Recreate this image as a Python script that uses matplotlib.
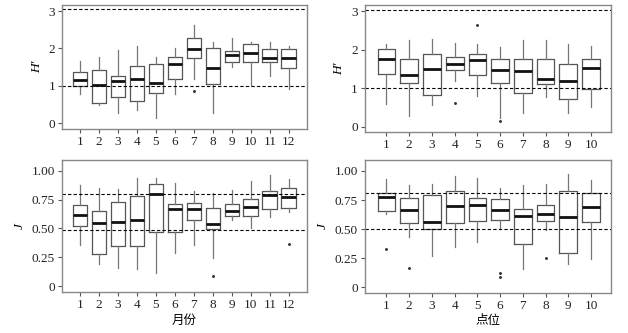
import matplotlib
matplotlib.use("Agg")
from matplotlib import pyplot as plt

plt.rcParams['font.family'] = ['Liberation Serif', 'Noto Sans CJK SC']

months = list(range(1, 13))
sites = list(range(1, 11))

# H' by month: whisker low, q1, median, q3, whisker high
h_month_lo = [0.77, 0.49, 0.27, 0.34, 0.13, 0.77, 1.18, 0.27, 1.51, 1.02, 1.25, 0.92]
h_month_q1 = [1.00, 0.53, 0.71, 0.59, 0.80, 1.18, 1.74, 1.04, 1.63, 1.64, 1.64, 1.47]
h_month_med = [1.16, 1.02, 1.12, 1.18, 1.07, 1.57, 1.99, 1.48, 1.82, 1.89, 1.75, 1.75]
h_month_q3 = [1.37, 1.41, 1.27, 1.53, 1.58, 1.76, 2.27, 2.02, 1.94, 2.13, 1.99, 1.99]
h_month_hi = [1.67, 1.78, 1.96, 2.07, 1.76, 2.00, 2.63, 2.16, 2.29, 2.16, 2.18, 2.06]
h_month_out = [[], [], [], [], [], [], [0.86], [], [], [], [], []]

# H' by site
h_site_lo = [0.59, 0.29, 0.56, 1.18, 0.80, 0.22, 0.35, 0.78, 0.36, 0.52]
h_site_q1 = [1.37, 1.14, 0.84, 1.47, 1.35, 1.14, 0.89, 1.10, 0.72, 0.99]
h_site_med = [1.75, 1.35, 1.51, 1.64, 1.74, 1.47, 1.45, 1.23, 1.20, 1.54]
h_site_q3 = [2.03, 1.75, 1.90, 1.80, 1.88, 1.75, 1.75, 1.75, 1.64, 1.77]
h_site_hi = [2.16, 2.25, 2.29, 2.18, 2.16, 2.07, 2.26, 2.26, 2.14, 2.09]
h_site_out = [[], [], [], [0.62], [2.64], [0.16], [], [], [], []]

# J by month
j_month_lo = [0.36, 0.19, 0.16, 0.145, 0.116, 0.29, 0.36, 0.246, 0.572, 0.50, 0.595, 0.64]
j_month_q1 = [0.52, 0.28, 0.347, 0.347, 0.465, 0.465, 0.57, 0.494, 0.61, 0.607, 0.673, 0.68]
j_month_med = [0.616, 0.546, 0.558, 0.575, 0.80, 0.673, 0.665, 0.535, 0.653, 0.682, 0.789, 0.775]
j_month_q3 = [0.70, 0.65, 0.73, 0.78, 0.884, 0.708, 0.72, 0.68, 0.714, 0.757, 0.824, 0.853]
j_month_hi = [0.876, 0.85, 0.84, 0.94, 0.94, 0.896, 0.824, 0.81, 0.83, 0.916, 0.962, 0.928]
j_month_out = [[], [], [], [], [], [], [], [0.087], [], [], [], [0.364]]

# J by site
j_site_lo = [0.626, 0.434, 0.27, 0.349, 0.386, 0.50, 0.154, 0.49, 0.20, 0.243]
j_site_q1 = [0.657, 0.554, 0.503, 0.551, 0.569, 0.577, 0.371, 0.566, 0.291, 0.563]
j_site_med = [0.777, 0.66, 0.557, 0.70, 0.711, 0.663, 0.609, 0.634, 0.60, 0.694]
j_site_q3 = [0.814, 0.769, 0.791, 0.826, 0.763, 0.757, 0.677, 0.703, 0.826, 0.811]
j_site_hi = [0.934, 0.883, 0.891, 0.954, 0.94, 0.857, 0.883, 0.891, 0.971, 0.92]
j_site_out = [[0.326], [0.169], [], [], [], [0.126, 0.086], [], [0.249], [], []]


def make_stats(lo, q1, med, q3, hi, out):
    stats = []
    for i in range(len(lo)):
        stats.append(dict(whislo=lo[i], q1=q1[i], med=med[i], q3=q3[i],
                          whishi=hi[i], fliers=out[i]))
    return stats


def draw(ax, labels, stats, ylim, yticks, yticklabels, refs, ylabel, xlabel=None):
    ax.bxp(stats, positions=labels, widths=0.78, showcaps=False,
           boxprops=dict(color='#555555', linewidth=0.9),
           whiskerprops=dict(color='#777777', linewidth=0.9),
           medianprops=dict(color='#111111', linewidth=2.0),
           flierprops=dict(marker='o', markersize=1.1, markerfacecolor='#333333',
                           markeredgecolor='#333333', linestyle='none'))
    for r in refs:
        ax.axhline(r, color='black', linestyle=(0, (3, 2)), linewidth=0.8)
    ax.set_xlim(0.05, len(labels) + 0.95 if len(labels) == 12 else len(labels) + 0.88)
    ax.set_ylim(*ylim)
    ax.set_yticks(yticks)
    ax.set_yticklabels(yticklabels)
    ax.set_xticks(labels)
    ax.set_xticklabels([str(v) for v in labels])
    for s in ax.spines.values():
        s.set_color('#888888')
        s.set_linewidth(1.0)
    ax.tick_params(direction='out', length=3, color='#555555', labelsize=9.5,
                   labelcolor='#222222', pad=2)
    ax.set_ylabel(ylabel, fontsize=9.5, style='italic', labelpad=4)
    if xlabel:
        ax.set_xlabel(xlabel, fontsize=9, family=['Noto Sans CJK SC'], labelpad=2)


fig = plt.figure(figsize=(6.28, 3.33), dpi=100)
ax1 = fig.add_axes([0.0987, 0.6126, 0.390, 0.372])
ax2 = fig.add_axes([0.581, 0.6036, 0.392, 0.381])
ax3 = fig.add_axes([0.0987, 0.1231, 0.390, 0.396])
ax4 = fig.add_axes([0.581, 0.1210, 0.392, 0.398])

draw(ax1, months, make_stats(h_month_lo, h_month_q1, h_month_med, h_month_q3, h_month_hi, h_month_out),
     (-0.16, 3.16), [0, 1, 2, 3], ['0', '1', '2', '3'], [3.05, 1.0], "H′")
draw(ax2, sites, make_stats(h_site_lo, h_site_q1, h_site_med, h_site_q3, h_site_hi, h_site_out),
     (-0.13, 3.155), [0, 1, 2, 3], ['0', '1', '2', '3'], [3.04, 1.0], "H′")
draw(ax3, months, make_stats(j_month_lo, j_month_q1, j_month_med, j_month_q3, j_month_hi, j_month_out),
     (-0.052, 1.093), [0, 0.25, 0.5, 0.75, 1.0], ['0', '0.25', '0.50', '0.75', '1.00'],
     [0.795, 0.49], "J", "月份")
draw(ax4, sites, make_stats(j_site_lo, j_site_q1, j_site_med, j_site_q3, j_site_hi, j_site_out),
     (-0.046, 1.092), [0, 0.25, 0.5, 0.75, 1.0], ['0', '0.25', '0.50', '0.75', '1.00'],
     [0.81, 0.50], "J", "点位")

fig.savefig("out.png", dpi=100)
